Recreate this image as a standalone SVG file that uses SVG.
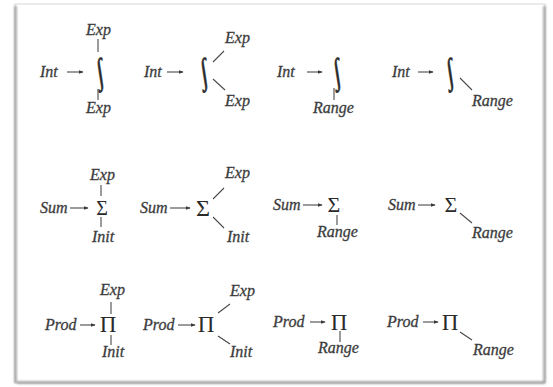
<svg xmlns="http://www.w3.org/2000/svg" width="553" height="387" viewBox="0 0 553 387">
<defs>
<style>
.t{font-family:"Liberation Serif","Times New Roman",serif;font-style:italic;font-size:16px;fill:#3c3c3c;stroke:#3c3c3c;stroke-width:0.3}
.s{font-family:"Liberation Serif","Times New Roman",serif;fill:#2a2a2a;text-anchor:middle}
.i{font-family:"Liberation Serif","Times New Roman",serif;font-size:34px;fill:#2a2a2a;stroke:#2a2a2a;stroke-width:0.6;text-anchor:middle}
.c line{stroke:#4a4a4a;stroke-width:1.1}
.a{stroke:#3a3a3a;stroke-width:1.3}
</style>
<marker id="ah" viewBox="0 0 8 8" refX="7" refY="4" markerWidth="5" markerHeight="5" orient="auto" markerUnits="userSpaceOnUse">
<path d="M0,1 L8,4 L0,7 Z" fill="#3a3a3a"/>
</marker>
<filter id="bl" x="-5%" y="-5%" width="110%" height="110%"><feGaussianBlur stdDeviation="0.9"/></filter>
</defs>
<rect width="553" height="387" fill="#ffffff"/>
<g id="frame">
<rect x="15" y="4" width="530" height="379" fill="#ffffff" stroke="#d8d8d8" stroke-width="1"/>
<g filter="url(#bl)" stroke="#9a9a9a" stroke-width="2.4" fill="none">
<line x1="15.5" y1="6" x2="15.5" y2="383"/>
<line x1="544.5" y1="6" x2="544.5" y2="383"/>
<line x1="17" y1="382.5" x2="545" y2="382.5"/>
</g>
</g>

<g id="int1">
<text class="t" x="40" y="77">Int</text>
<text class="i" x="100" y="82" transform="translate(100,71) skewX(9) scale(0.7,1.05) translate(-100,-71)">∫</text>
<text class="t" x="86" y="35">Exp</text>
<text class="t" x="86" y="113">Exp</text>
</g>
<g id="int2">
<text class="t" x="144" y="77">Int</text>
<text class="i" x="204" y="82" transform="translate(204,71) skewX(9) scale(0.7,1.05) translate(-204,-71)">∫</text>
<text class="t" x="225" y="43">Exp</text>
<text class="t" x="225" y="106">Exp</text>
</g>
<g id="int3">
<text class="t" x="277" y="77">Int</text>
<text class="i" x="337" y="82" transform="translate(337,71) skewX(9) scale(0.7,1.05) translate(-337,-71)">∫</text>
<text class="t" x="313" y="113">Range</text>
</g>
<g id="int4">
<text class="t" x="392" y="77">Int</text>
<text class="i" x="450" y="82" transform="translate(450,71) skewX(9) scale(0.7,1.05) translate(-450,-71)">∫</text>
<text class="t" x="472" y="106">Range</text>
</g>

<g id="sum1">
<text class="t" x="40" y="213">Sum</text>
<text class="s" x="102" y="215" font-size="20">Σ</text>
<text class="t" x="90" y="180">Exp</text>
<text class="t" x="92" y="242">Init</text>
</g>
<g id="sum2">
<text class="t" x="140" y="213">Sum</text>
<text class="s" x="203" y="216" font-size="24">Σ</text>
<text class="t" x="225" y="178">Exp</text>
<text class="t" x="227" y="242">Init</text>
</g>
<g id="sum3">
<text class="t" x="273" y="210">Sum</text>
<text class="s" x="334" y="212" font-size="22">Σ</text>
<text class="t" x="317" y="237">Range</text>
</g>
<g id="sum4">
<text class="t" x="388" y="210">Sum</text>
<text class="s" x="451" y="212" font-size="22">Σ</text>
<text class="t" x="472" y="238">Range</text>
</g>

<g id="prod1">
<text class="t" x="45" y="330">Prod</text>
<text class="s" x="108" y="332" font-size="23">Π</text>
<text class="t" x="100" y="295">Exp</text>
<text class="t" x="102" y="357">Init</text>
</g>
<g id="prod2">
<text class="t" x="143" y="330">Prod</text>
<text class="s" x="206" y="332" font-size="23">Π</text>
<text class="t" x="230" y="296">Exp</text>
<text class="t" x="230" y="357">Init</text>
</g>
<g id="prod3">
<text class="t" x="273" y="327">Prod</text>
<text class="s" x="339" y="330" font-size="23">Π</text>
<text class="t" x="318" y="353">Range</text>
</g>
<g id="prod4">
<text class="t" x="387" y="327">Prod</text>
<text class="s" x="450" y="330" font-size="23">Π</text>
<text class="t" x="473" y="355">Range</text>
</g>

<g id="connectors" class="c">
<line class="a" x1="67" y1="72" x2="83" y2="72" marker-end="url(#ah)"/>
<line x1="98" y1="39" x2="98" y2="52"/>
<line x1="98" y1="89" x2="98" y2="100"/>
<line class="a" x1="167" y1="72" x2="183" y2="72" marker-end="url(#ah)"/>
<line x1="213" y1="62" x2="224" y2="51"/>
<line x1="213" y1="79" x2="225" y2="90"/>
<line class="a" x1="307" y1="72" x2="322" y2="72" marker-end="url(#ah)"/>
<line x1="334" y1="88" x2="334" y2="100"/>
<line class="a" x1="418" y1="72" x2="433" y2="72" marker-end="url(#ah)"/>
<line x1="460" y1="78" x2="472" y2="90"/>

<line class="a" x1="70" y1="208" x2="88" y2="208" marker-end="url(#ah)"/>
<line x1="101" y1="185" x2="101" y2="196"/>
<line x1="101" y1="217" x2="101" y2="227"/>
<line class="a" x1="170" y1="208" x2="190" y2="208" marker-end="url(#ah)"/>
<line x1="213" y1="199" x2="224" y2="188"/>
<line x1="213" y1="217" x2="224" y2="228"/>
<line class="a" x1="303" y1="205" x2="322" y2="205" marker-end="url(#ah)"/>
<line x1="337" y1="215" x2="337" y2="225"/>
<line class="a" x1="418" y1="205" x2="435" y2="205" marker-end="url(#ah)"/>
<line x1="460" y1="213" x2="472" y2="223"/>

<line class="a" x1="80" y1="325" x2="95" y2="325" marker-end="url(#ah)"/>
<line x1="111" y1="302" x2="111" y2="314"/>
<line x1="111" y1="335" x2="111" y2="345"/>
<line class="a" x1="178" y1="325" x2="195" y2="325" marker-end="url(#ah)"/>
<line x1="218" y1="313" x2="230" y2="304"/>
<line x1="218" y1="336" x2="230" y2="344"/>
<line class="a" x1="310" y1="322" x2="325" y2="322" marker-end="url(#ah)"/>
<line x1="340" y1="331" x2="340" y2="342"/>
<line class="a" x1="423" y1="322" x2="438" y2="322" marker-end="url(#ah)"/>
<line x1="460" y1="332" x2="472" y2="340"/>
</g>
</svg>
